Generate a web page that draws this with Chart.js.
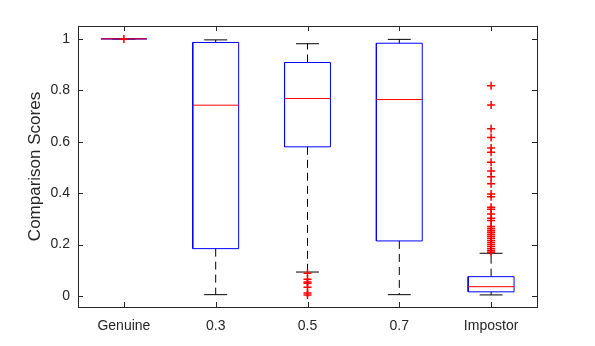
<!DOCTYPE html>
<html>
<head>
<meta charset="utf-8">
<script src="https://cdn.jsdelivr.net/npm/chart.js@4.4.1/dist/chart.umd.min.js"></script>
<style>
  html, body { margin: 0; padding: 0; background: #fff; }
</style>
</head>
<body>
<canvas id="scoreChart" width="595" height="346"></canvas>
<script>
// box plot summary, one entry per group
var categories = ['Genuine', '0.3', '0.5', '0.7', 'Impostor'];
var lowerQuartile = [1, 0.184, 0.580, 0.214, 0.016];
var medians = [1, 0.742, 0.768, 0.764, 0.036];
var upperQuartile = [1, 0.986, 0.908, 0.983, 0.075];
var whiskerLow = [1, 0.005, 0.093, 0.005, 0.004];
var whiskerHigh = [1, 0.996, 0.981, 0.998, 0.166];
var outliers = [
    [0.999],
    [],
    [0.088, 0.065, 0.054, 0.049, 0.034, 0.011, 0.004],
    [],
    [0.818, 0.743, 0.650, 0.616, 0.575, 0.559, 0.520, 0.486, 0.464, 0.436,
     0.397, 0.386, 0.345, 0.337, 0.319, 0.302, 0.293, 0.270, 0.262, 0.255,
     0.248, 0.240, 0.232, 0.224, 0.216, 0.208, 0.200, 0.192, 0.184, 0.176, 0.170]
];
var yTicks = [0, 0.2, 0.4, 0.6, 0.8, 1];

var boxHalf = 0.25;
var capHalf = 0.125;
var fontFamily = '"Liberation Sans", Arial, sans-serif';
var textColor = '#262626';

// turn a list of polylines into one point list broken by null gaps
function paths(list) {
    var pts = [];
    list.forEach(function (line) {
        line.forEach(function (p) { pts.push({ x: p[0], y: p[1] }); });
        pts.push({ x: line[0][0], y: null });
    });
    return pts;
}

var boxLines = [], medianLines = [], whiskerLines = [], capLines = [], outlierPoints = [];
categories.forEach(function (c, i) {
    var x = i + 1;
    boxLines.push([[x - boxHalf, lowerQuartile[i]], [x + boxHalf, lowerQuartile[i]],
        [x + boxHalf, upperQuartile[i]], [x - boxHalf, upperQuartile[i]], [x - boxHalf, lowerQuartile[i]]]);
    medianLines.push([[x - boxHalf, medians[i]], [x + boxHalf, medians[i]]]);
    whiskerLines.push([[x, upperQuartile[i]], [x, whiskerHigh[i]]]);
    whiskerLines.push([[x, lowerQuartile[i]], [x, whiskerLow[i]]]);
    capLines.push([[x - capHalf, whiskerHigh[i]], [x + capHalf, whiskerHigh[i]]]);
    capLines.push([[x - capHalf, whiskerLow[i]], [x + capHalf, whiskerLow[i]]]);
    outliers[i].forEach(function (v) { outlierPoints.push({ x: x, y: v }); });
});

function lineSet(data, color, dash) {
    return {
        data: paths(data),
        showLine: true,
        borderColor: color,
        borderWidth: 1,
        borderDash: dash || [],
        pointRadius: 0,
        spanGaps: false,
        tension: 0
    };
}

// axes frame with inward ticks on all four sides
var framePlugin = {
    id: 'frame',
    afterDatasetsDraw: function (chart) {
        var ctx = chart.ctx, a = chart.chartArea;
        var xs = chart.scales.x, ys = chart.scales.y;
        var len = 5;
        ctx.save();
        ctx.strokeStyle = '#262626';
        ctx.lineWidth = 1;
        ctx.strokeRect(Math.round(a.left) + 0.5, Math.round(a.top) + 0.5,
            Math.round(a.right - a.left), Math.round(a.bottom - a.top));
        ctx.beginPath();
        categories.forEach(function (c, i) {
            var px = Math.round(xs.getPixelForValue(i + 1)) + 0.5;
            ctx.moveTo(px, a.bottom); ctx.lineTo(px, a.bottom - len);
            ctx.moveTo(px, a.top); ctx.lineTo(px, a.top + len);
        });
        yTicks.forEach(function (v) {
            var py = Math.round(ys.getPixelForValue(v)) + 0.5;
            ctx.moveTo(a.left, py); ctx.lineTo(a.left + len, py);
            ctx.moveTo(a.right, py); ctx.lineTo(a.right - len, py);
        });
        ctx.stroke();
        ctx.restore();
    }
};

new Chart('scoreChart', {
    type: 'scatter',
    data: {
        datasets: [
            {
                data: outlierPoints,
                pointStyle: 'cross',
                pointRadius: 4,
                borderColor: '#ff0000',
                backgroundColor: '#ff0000',
                borderWidth: 1.5
            },
            lineSet(medianLines, '#ff0000'),
            lineSet(boxLines, '#0000ff'),
            lineSet(capLines, '#000000'),
            lineSet(whiskerLines, '#000000', [8, 5])
        ]
    },
    options: {
        responsive: false,
        animation: false,
        layout: { padding: { top: 26, right: 58, left: 0, bottom: 0 } },
        plugins: {
            legend: { display: false },
            tooltip: { enabled: false }
        },
        scales: {
            x: {
                type: 'linear',
                min: 0.5,
                max: 5.5,
                grid: { display: false, drawTicks: false },
                border: { display: false },
                afterBuildTicks: function (axis) {
                    axis.ticks = categories.map(function (c, i) { return { value: i + 1 }; });
                },
                afterFit: function (axis) { axis.height = 39; },
                ticks: {
                    padding: 11,
                    maxRotation: 0,
                    autoSkip: false,
                    color: textColor,
                    font: { family: fontFamily, size: 14 },
                    callback: function (v) { return categories[Math.round(v) - 1]; }
                }
            },
            y: {
                min: -0.043,
                max: 1.05,
                grid: { display: false, drawTicks: false },
                border: { display: false },
                afterBuildTicks: function (axis) {
                    axis.ticks = yTicks.map(function (v) { return { value: v }; });
                },
                afterFit: function (axis) { axis.width = 78; },
                ticks: {
                    padding: 8,
                    autoSkip: false,
                    color: textColor,
                    font: { family: fontFamily, size: 14 },
                    callback: function (v) { return String(v); }
                },
                title: {
                    display: true,
                    text: 'Comparison Scores',
                    color: textColor,
                    font: { family: fontFamily, size: 17 },
                    padding: { top: 25, bottom: 0 }
                }
            }
        }
    },
    plugins: [framePlugin]
});
</script>
</body>
</html>
